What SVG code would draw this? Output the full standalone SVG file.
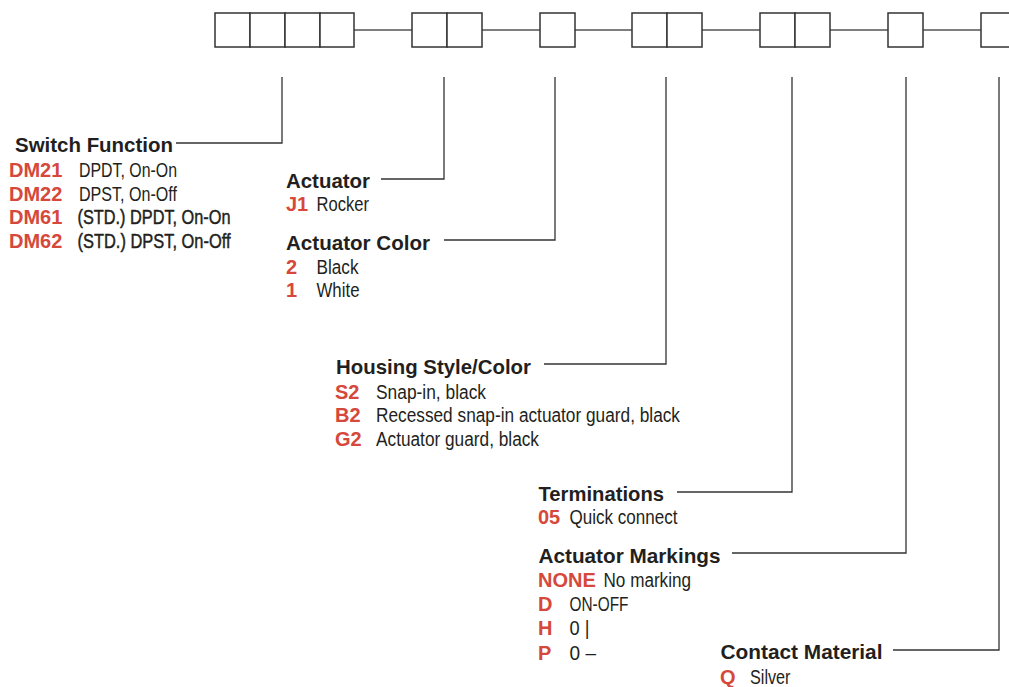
<svg xmlns="http://www.w3.org/2000/svg" width="1009" height="687" viewBox="0 0 1009 687">
<style>
.box{fill:#fff;stroke:#333;stroke-width:1.5}
.ln{fill:none;stroke:#555;stroke-width:1.6}
.ld{fill:none;stroke:#333;stroke-width:1.3}
.h{font-family:"Liberation Sans",Arial,sans-serif;font-weight:bold;font-size:20.5px;fill:#231f20}
.c{font-family:"Liberation Sans",Arial,sans-serif;font-weight:bold;font-size:20px;fill:#d5483b}
.t{font-family:"Liberation Sans",Arial,sans-serif;font-size:19.5px;fill:#231f20}
.tb{font-family:"Liberation Sans",Arial,sans-serif;font-size:19.5px;fill:#231f20;stroke:#231f20;stroke-width:0.45}
</style>
<rect width="1009" height="687" fill="#fff"/>
<g id="connectors">
<path class="ln" d="M354 30H412M482 30H540M575 30H632M702 30H760M830 30H888M923 30H981"/>
<path class="ld" d="M282 77V143H176"/>
<path class="ld" d="M444 77V179H381"/>
<path class="ld" d="M555 77V240H444"/>
<path class="ld" d="M666 77V364H544"/>
<path class="ld" d="M792 77V492H677"/>
<path class="ld" d="M906 77V553H732"/>
<path class="ld" d="M999 77V650H893"/>
</g>
<g id="code-boxes">
<rect class="box" x="215" y="13" width="35" height="34"/>
<rect class="box" x="250" y="13" width="35" height="34"/>
<rect class="box" x="285" y="13" width="35" height="34"/>
<rect class="box" x="320" y="13" width="34" height="34"/>
<rect class="box" x="412" y="13" width="35" height="34"/>
<rect class="box" x="447" y="13" width="35" height="34"/>
<rect class="box" x="540" y="13" width="35" height="34"/>
<rect class="box" x="632" y="13" width="35" height="34"/>
<rect class="box" x="667" y="13" width="35" height="34"/>
<rect class="box" x="760" y="13" width="35" height="34"/>
<rect class="box" x="795" y="13" width="35" height="34"/>
<rect class="box" x="888" y="13" width="35" height="34"/>
<rect class="box" x="981" y="13" width="35" height="34"/>
</g>
<g id="switch-function">
<text class="h" x="15" y="151.5" textLength="158" lengthAdjust="spacingAndGlyphs">Switch Function</text>
<text class="c" x="9" y="176.5">DM21</text>
<text class="t" x="79" y="176.5" textLength="98" lengthAdjust="spacingAndGlyphs">DPDT, On-On</text>
<text class="c" x="9" y="200.5">DM22</text>
<text class="t" x="79" y="200.5" textLength="98" lengthAdjust="spacingAndGlyphs">DPST, On-Off</text>
<text class="c" x="9" y="224">DM61</text>
<text class="tb" x="77.5" y="224" textLength="153" lengthAdjust="spacingAndGlyphs">(STD.) DPDT, On-On</text>
<text class="c" x="9" y="247.5">DM62</text>
<text class="tb" x="77.5" y="247.5" textLength="153" lengthAdjust="spacingAndGlyphs">(STD.) DPST, On-Off</text>
</g>
<g id="actuator">
<text class="h" x="286" y="187.5" textLength="84" lengthAdjust="spacingAndGlyphs">Actuator</text>
<text class="c" x="286" y="211">J1</text>
<text class="t" x="316.5" y="211" textLength="52.5" lengthAdjust="spacingAndGlyphs">Rocker</text>
</g>
<g id="actuator-color">
<text class="h" x="286" y="250" textLength="144" lengthAdjust="spacingAndGlyphs">Actuator Color</text>
<text class="c" x="286" y="273.5">2</text>
<text class="t" x="316.5" y="273.5" textLength="42" lengthAdjust="spacingAndGlyphs">Black</text>
<text class="c" x="286" y="297">1</text>
<text class="t" x="316.5" y="297" textLength="43" lengthAdjust="spacingAndGlyphs">White</text>
</g>
<g id="housing">
<text class="h" x="336" y="373.5" textLength="195" lengthAdjust="spacingAndGlyphs">Housing Style/Color</text>
<text class="c" x="335" y="398.5">S2</text>
<text class="t" x="376" y="398.5" textLength="110" lengthAdjust="spacingAndGlyphs">Snap-in, black</text>
<text class="c" x="335" y="422">B2</text>
<text class="t" x="376" y="422" textLength="304" lengthAdjust="spacingAndGlyphs">Recessed snap-in actuator guard, black</text>
<text class="c" x="335" y="445.5">G2</text>
<text class="t" x="376" y="445.5" textLength="163" lengthAdjust="spacingAndGlyphs">Actuator guard, black</text>
</g>
<g id="terminations">
<text class="h" x="538.5" y="500.5" textLength="125.5" lengthAdjust="spacingAndGlyphs">Terminations</text>
<text class="c" x="538" y="524">05</text>
<text class="t" x="569.5" y="524" textLength="108" lengthAdjust="spacingAndGlyphs">Quick connect</text>
</g>
<g id="actuator-markings">
<text class="h" x="538.5" y="562.5" textLength="182" lengthAdjust="spacingAndGlyphs">Actuator Markings</text>
<text class="c" x="538" y="586.5">NONE</text>
<text class="t" x="603.5" y="586.5" textLength="87.5" lengthAdjust="spacingAndGlyphs">No marking</text>
<text class="c" x="538" y="610.5">D</text>
<text class="t" x="569.5" y="610.5" textLength="59" lengthAdjust="spacingAndGlyphs">ON-OFF</text>
<text class="c" x="538" y="635">H</text>
<text class="t" x="569.5" y="635" textLength="20" lengthAdjust="spacingAndGlyphs">0 |</text>
<text class="c" x="538" y="659.5">P</text>
<text class="t" x="569.5" y="659.5" textLength="26.5" lengthAdjust="spacingAndGlyphs">0 –</text>
</g>
<g id="contact-material">
<text class="h" x="720.5" y="658.5" textLength="162" lengthAdjust="spacingAndGlyphs">Contact Material</text>
<text class="c" x="720" y="683.5">Q</text>
<text class="t" x="750" y="683.5" textLength="40.5" lengthAdjust="spacingAndGlyphs">Silver</text>
</g>
</svg>
